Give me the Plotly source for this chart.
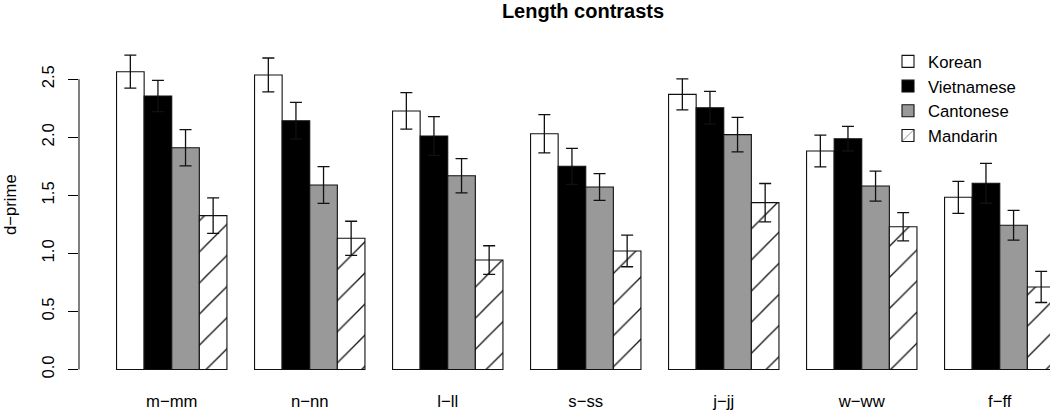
import plotly.graph_objects as go

# ---- data ----
categories = ["m−mm", "n−nn", "l−ll", "s−ss", "j−jj", "w−ww", "f−ff"]
series_names = ["Korean", "Vietnamese", "Cantonese", "Mandarin"]

korean = [2.565, 2.537, 2.227, 2.031, 2.370, 1.882, 1.483]
korean_se = [0.142, 0.146, 0.157, 0.165, 0.133, 0.137, 0.138]
vietnamese = [2.356, 2.143, 2.011, 1.750, 2.255, 1.988, 1.604]
vietnamese_se = [0.135, 0.158, 0.167, 0.155, 0.141, 0.106, 0.172]
cantonese = [1.910, 1.589, 1.669, 1.572, 2.023, 1.580, 1.242]
cantonese_se = [0.156, 0.158, 0.148, 0.115, 0.148, 0.129, 0.128]
mandarin = [1.325, 1.130, 0.943, 1.021, 1.437, 1.230, 0.711]
mandarin_se = [0.153, 0.147, 0.123, 0.136, 0.165, 0.122, 0.134]

y_tickvals = [0.0, 0.5, 1.0, 1.5, 2.0, 2.5]
y_ticktext = ["0.0", "0.5", "1.0", "1.5", "2.0", "2.5"]

title_text = "Length contrasts"
y_title = "d−prime"

# ---- styling ----
FONT = "Liberation Sans, Arial, Helvetica, sans-serif"
FS = 16.7
W, H = 1050, 411
L, R, T, B = 79, 0, 30, 39
px_per_unit = 116.1
zero_px = 369.5
plot_h = H - T - B
ymin = -((H - B) - zero_px) / px_per_unit
ymax = ymin + plot_h / px_per_unit

fills = ["white", "black", "#999999", "white"]
values = [korean, vietnamese, cantonese, mandarin]
errors = [korean_se, vietnamese_se, cantonese_se, mandarin_se]

fig = go.Figure()
for i, (name, vals, errs, fill) in enumerate(zip(series_names, values, errors, fills)):
    marker = dict(color=fill, line=dict(color="#111111", width=1.1))
    if name == "Mandarin":
        marker["pattern"] = dict(shape="/", fgcolor="#111111", bgcolor="white",
                                 size=22, solidity=0.06, fillmode="replace")
    fig.add_trace(go.Bar(
        name=name, x=categories, y=vals, marker=marker,
        error_y=dict(type="data", array=errs, symmetric=True,
                     color="#111111", thickness=1.3, width=6),
    ))

# category axis: group period = 5 bar-widths, bars width 1 -> bargap 0.2
fig.update_layout(
    width=W, height=H,
    margin=dict(l=L, r=R, t=T, b=B, pad=0, autoexpand=False),
    paper_bgcolor="white", plot_bgcolor="white",
    barmode="group", bargap=0.2, bargroupgap=0.0,
    font=dict(family=FONT, size=FS, color="black"),
    showlegend=True,
    legend=dict(xref="container", yref="container", x=888 / W, y=1 - 44 / H,
                xanchor="left", yanchor="top", bgcolor="rgba(0,0,0,0)",
                font=dict(family=FONT, size=FS, color="black"),
                traceorder="normal", itemclick=False),
    title=dict(text="<b>" + title_text + "</b>", xref="container", x=583 / W,
               xanchor="center", yref="container", y=1 - 11 / H, yanchor="middle",
               font=dict(family=FONT, size=20, color="black")),
)

fig.update_xaxes(
    type="category", range=[-0.672, 6.364], automargin=False,
    showline=False, showgrid=False, zeroline=False,
    ticks="", ticklabelstandoff=17,
    tickfont=dict(family=FONT, size=FS, color="black"),
)
fig.update_yaxes(
    range=[ymin, ymax], showgrid=False, zeroline=False, showline=False, automargin=False,
    tickmode="array", tickvals=y_tickvals, ticktext=y_ticktext,
    ticks="outside", ticklen=10, tickwidth=1, tickcolor="black",
    tickangle=-90, ticklabelstandoff=7,
    tickfont=dict(family=FONT, size=FS, color="black"),
)

# R-style axis line spanning only the tick range
fig.add_shape(type="line", xref="paper", yref="y", x0=0, x1=0,
              y0=min(y_tickvals), y1=max(y_tickvals),
              line=dict(color="black", width=1))

fig.add_annotation(text=y_title, textangle=-90, xref="paper", yref="paper",
                   x=(10 - L) / (W - L - R), y=((H - B) - 205) / plot_h,
                   xanchor="center", yanchor="middle", showarrow=False,
                   font=dict(family=FONT, size=FS, color="black"))

fig.write_html("out.html", config={"displayModeBar": False},
               post_script="document.body.style.margin='0';document.body.style.padding='0';")
